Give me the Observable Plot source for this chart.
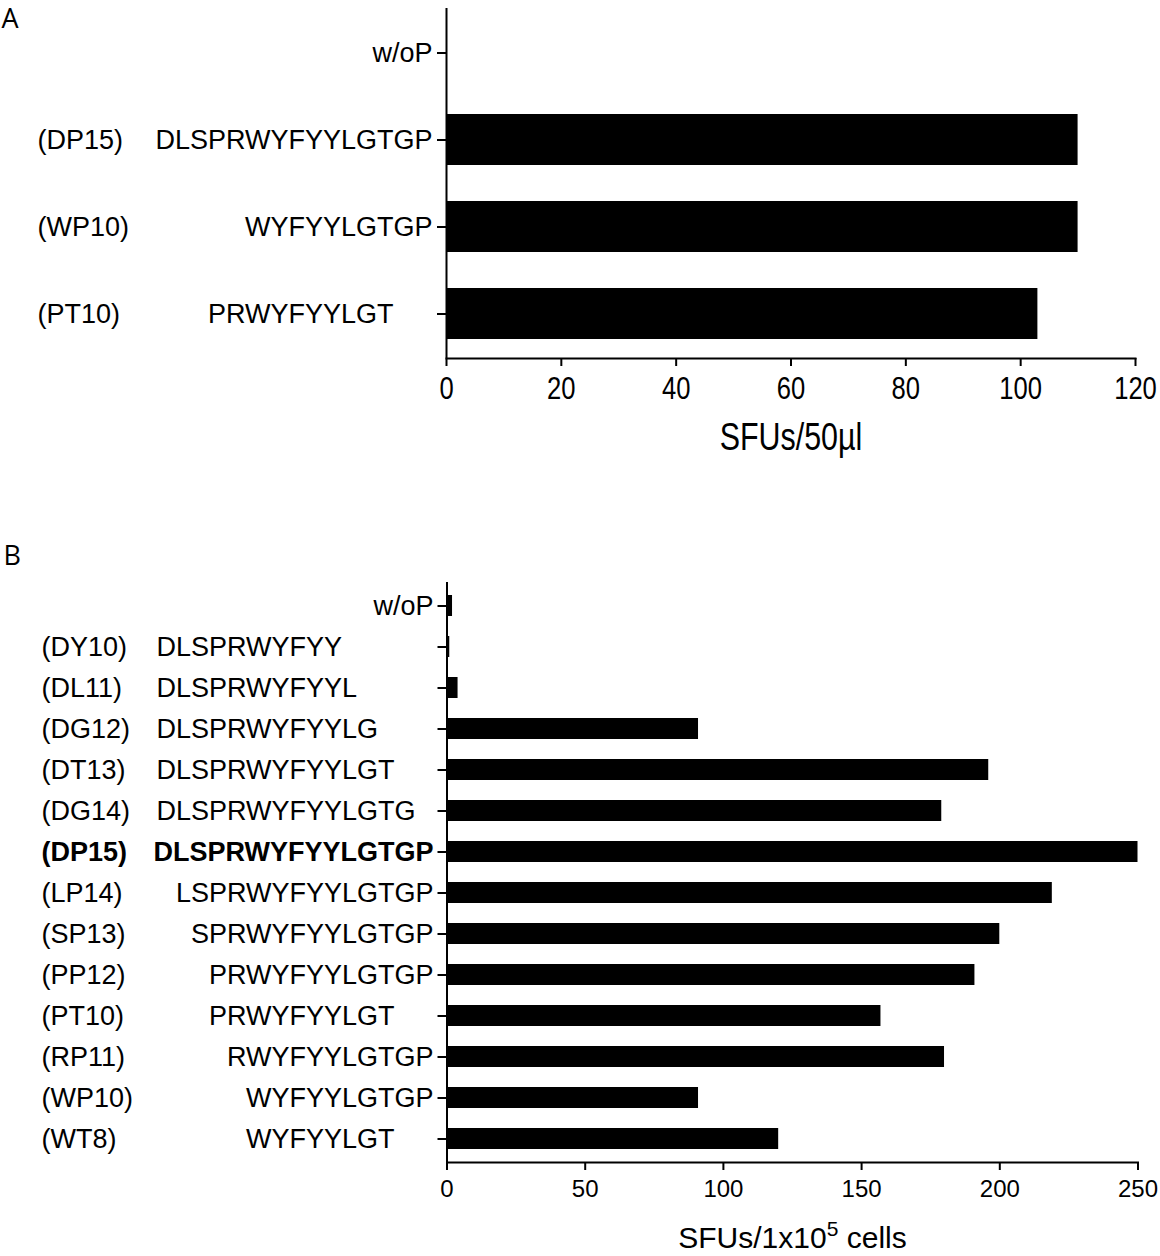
<!DOCTYPE html>
<html>
<head>
<meta charset="utf-8">
<script src="https://cdn.jsdelivr.net/npm/d3@7"></script>
<script src="https://cdn.jsdelivr.net/npm/@observablehq/plot@0.6"></script>
<style>
  html, body { margin: 0; padding: 0; background: #fff; }
  #page { position: relative; width: 1160px; height: 1256px; overflow: hidden; }
  svg { display: block; }
</style>
</head>
<body>
<div id="page">
  <div id="chartA"></div>
  <div id="chartB"></div>
</div>
<script>
// ---------- Data ----------
const fullSequence = "DLSPRWYFYYLGTGP";

// Panel A
const letterA = "A";
const codesA = ["", "(DP15)", "(WP10)", "(PT10)"];
const peptidesA = ["w/oP", "DLSPRWYFYYLGTGP", "WYFYYLGTGP", "PRWYFYYLGT"];
const valuesA = [0, 110, 110, 103];
const ticksA = [0, 20, 40, 60, 80, 100, 120];
const labelA = "SFUs/50µl";

// Panel B
const letterB = "B";
const codesB = ["", "(DY10)", "(DL11)", "(DG12)", "(DT13)", "(DG14)", "(DP15)", "(LP14)", "(SP13)", "(PP12)", "(PT10)", "(RP11)", "(WP10)", "(WT8)"];
const peptidesB = ["w/oP", "DLSPRWYFYY", "DLSPRWYFYYL", "DLSPRWYFYYLG", "DLSPRWYFYYLGT", "DLSPRWYFYYLGTG", "DLSPRWYFYYLGTGP", "LSPRWYFYYLGTGP", "SPRWYFYYLGTGP", "PRWYFYYLGTGP", "PRWYFYYLGT", "RWYFYYLGTGP", "WYFYYLGTGP", "WYFYYLGT"];
const valuesB = [2, 1, 4, 91, 196, 179, 250, 219, 200, 191, 157, 180, 91, 120];
const ticksB = [0, 50, 100, 150, 200, 250];
const labelB = ["SFUs/1x10", "5", " cells"]; // base, superscript, rest
const highlightB = "(DP15)";

// ---------- Helpers ----------
const LABEL_FONT = "'Liberation Sans', Arial, sans-serif";
const LETTER_FONT = "'Open Sans', 'Noto Sans', sans-serif";
const ctx = document.createElement("canvas").getContext("2d");
function textWidth(str, size, weight) {
  ctx.font = `${weight} ${size}px ${LABEL_FONT}`;
  return ctx.measureText(str).width;
}
// Align each peptide to its position inside the full sequence
function suffixOf(pep) {
  const i = fullSequence.indexOf(pep);
  return i < 0 ? "" : fullSequence.slice(i + pep.length);
}
// Horizontally condense a text element (to mimic a narrow typeface)
function condenseNode(node, sx) {
  const t = d3.select(node);
  let tr = t.attr("transform");
  if (!tr) {
    const x = +t.attr("x") || 0, y = +t.attr("y") || 0;
    t.attr("x", null).attr("y", null);
    tr = `translate(${x},${y})`;
  }
  t.attr("transform", `${tr} scale(${sx},1)`);
}

function panel(cfg) {
  const rows = cfg.peptides.map((p, i) => ({peptide: p, code: cfg.codes[i], value: cfg.values[i],
    bold: cfg.highlight != null && cfg.codes[i] === cfg.highlight}));
  const rowFont = 27;
  const rowMarks = [];
  rows.forEach(r => {
    const weight = r.bold ? "bold" : "normal";
    const shift = textWidth(suffixOf(r.peptide), rowFont, weight);
    rowMarks.push(Plot.text([r], {y: "peptide", text: "peptide", frameAnchor: "left", textAnchor: "end",
      dx: -cfg.labelGap - shift, fontSize: rowFont, fontWeight: weight, fontFamily: LABEL_FONT, fill: "black"}));
    if (r.code) rowMarks.push(Plot.text([r], {y: "peptide", text: "code", frameAnchor: "left", textAnchor: "start",
      dx: cfg.codeX - cfg.marginLeft, fontSize: rowFont, fontWeight: weight, fontFamily: LABEL_FONT, fill: "black"}));
  });
  const labelText = Array.isArray(cfg.label) ? cfg.label.join("") : cfg.label;
  const svg = Plot.plot({
    width: 1160,
    height: cfg.height,
    marginTop: cfg.marginTop,
    marginBottom: cfg.marginBottom,
    marginLeft: cfg.marginLeft,
    marginRight: cfg.marginRight,
    style: {fontFamily: LABEL_FONT, fontSize: "27px", color: "black", background: "white", overflow: "visible"},
    x: {domain: [0, cfg.xMax]},
    y: {domain: cfg.peptides, paddingInner: cfg.paddingInner, paddingOuter: cfg.paddingOuter},
    marks: [
      Plot.barX(rows, {x: "value", y: "peptide", fill: "black"}),
      Plot.ruleX([0], {stroke: "black", strokeWidth: 2}),
      Plot.frame({anchor: "bottom", stroke: "black", strokeWidth: 2}),
      Plot.axisY({tickSize: 9, tickFormat: () => "", label: null, stroke: "black", strokeWidth: 2}),
      Plot.axisX({ticks: cfg.ticks, tickSize: 8, tickPadding: cfg.tickPadding, label: null, stroke: "black", strokeWidth: 2,
        fontSize: cfg.tickFontSize, fontFamily: LABEL_FONT, fill: "black"}),
      Plot.text([labelText], {frameAnchor: "bottom", dy: cfg.labelDy, lineAnchor: "middle",
        fontSize: cfg.labelFontSize, fontFamily: LABEL_FONT, fill: "black"}),
      Plot.text([cfg.letter], {frameAnchor: "top-left", textAnchor: "start", lineAnchor: "top",
        dx: cfg.letterX - cfg.marginLeft, dy: cfg.letterTop - cfg.marginTop,
        fontSize: 27, fontFamily: LETTER_FONT, fill: "black"}),
      ...rowMarks
    ]
  });
  const tickSet = new Set(cfg.ticks.map(String));
  const texts = d3.select(svg).selectAll("text").nodes();
  texts.forEach(node => {
    const s = node.textContent;
    if (cfg.condense && (tickSet.has(s) || s === labelText)) condenseNode(node, cfg.condense);
    if (Array.isArray(cfg.label) && s === labelText) {
      const t = d3.select(node);
      t.text("");
      t.append("tspan").text(cfg.label[0]);
      t.append("tspan").attr("dy", -12).attr("font-size", 21).text(cfg.label[1]);
      t.append("tspan").attr("dy", 12).text(cfg.label[2]);
    }
  });
  return svg;
}

document.getElementById("chartA").append(panel({
  letter: letterA, letterX: 1, letterTop: 8,
  codes: codesA, peptides: peptidesA, values: valuesA, ticks: ticksA, label: labelA,
  height: 520, marginTop: 8, marginBottom: 162, marginLeft: 446, marginRight: 25,
  xMax: 120, paddingInner: 0.417, paddingOuter: 0.2085,
  codeX: 37, labelGap: 14,
  tickFontSize: 32, tickPadding: 10,
  labelFontSize: 38, labelDy: 79, condense: 0.8
}));

document.getElementById("chartB").append(panel({
  letter: letterB, letterX: 3, letterTop: 25,
  codes: codesB, peptides: peptidesB, values: valuesB, ticks: ticksB, label: labelB, highlight: highlightB,
  height: 736, marginTop: 62, marginBottom: 94, marginLeft: 446.5, marginRight: 22.5,
  xMax: 250, paddingInner: 0.5, paddingOuter: 0.25,
  codeX: 41, labelGap: 13.5,
  tickFontSize: 24, tickPadding: 9,
  labelFontSize: 30, labelDy: 76
}));
</script>
</body>
</html>
